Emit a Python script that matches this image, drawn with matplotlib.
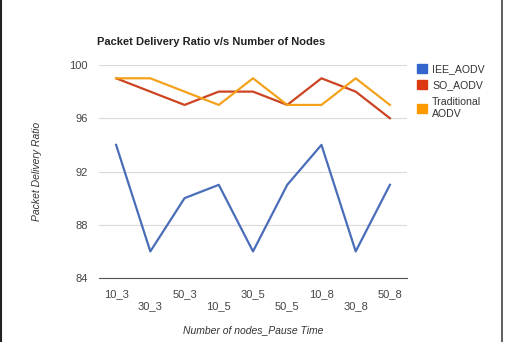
import matplotlib.pyplot as plt
from matplotlib.patches import Patch
from matplotlib.lines import Line2D

plt.rcParams['font.family'] = ['Liberation Sans', 'DejaVu Sans']

categories = ["10_3", "30_3", "50_3", "10_5", "30_5", "50_5", "10_8", "30_8", "50_8"]
iee_aodv = [94, 86, 90, 91, 86, 91, 94, 86, 91]
so_aodv = [99, 98, 97, 98, 98, 97, 99, 98, 96]
trad_aodv = [99, 99, 98, 97, 99, 97, 97, 99, 97]

fig = plt.figure(figsize=(5.05, 3.42), dpi=100)
ax = fig.add_axes([0.196, 0.187, 0.610, 0.623])

x = range(len(categories))
ax.plot(x, iee_aodv, color="#4a6db8", lw=1.6)
ax.plot(x, so_aodv, color="#cc4422", lw=1.6)
ax.plot(x, trad_aodv, color="#f4a21c", lw=1.6)

ax.set_xlim(-0.5, len(categories) - 0.5)
ax.set_ylim(84, 100)
ax.set_yticks([84, 88, 92, 96, 100])
ax.set_xticks(list(x))
# stagger the x labels like the original
ax.set_xticklabels([c if i % 2 == 0 else "\n" + c for i, c in enumerate(categories)])
ax.tick_params(axis="both", length=0, labelsize=8, colors="#444444", pad=8)
ax.grid(axis="y", color="#d9d9d9", lw=0.8)
ax.set_axisbelow(True)
for s in ["top", "right", "left"]:
    ax.spines[s].set_visible(False)
ax.spines["bottom"].set_color("#555555")

ax.set_xlabel("Number of nodes_Pause Time", fontsize=7.5, style="italic", color="#333333", labelpad=10)
ax.set_ylabel("Packet Delivery Ratio", fontsize=7.5, style="italic", color="#333333", labelpad=20)
fig.text(0.192, 0.868, "Packet Delivery Ratio v/s Number of Nodes", fontsize=8, fontweight="bold", color="#222222")

handles = [Patch(color="#3366cc"), Patch(color="#dc3912"), Patch(color="#ff9900")]
leg = fig.legend(handles, ["IEE_AODV", "SO_AODV", "Traditional\nAODV"],
                 loc="upper left", bbox_to_anchor=(0.818, 0.825), frameon=False,
                 fontsize=7.6, handlelength=0.9, handleheight=0.9, handletextpad=0.5,
                 labelspacing=0.6, borderaxespad=0)
for t in leg.get_texts():
    t.set_color("#333333")
    t.set_linespacing(1.3)

# dark frame edges on left and right of the image
fig.add_artist(Line2D([0.002, 0.002], [0, 1], transform=fig.transFigure, color="#222222", lw=1.5))
fig.add_artist(Line2D([0.995, 0.995], [0, 1], transform=fig.transFigure, color="#444444", lw=1.2))

fig.savefig("out.png", dpi=100)
